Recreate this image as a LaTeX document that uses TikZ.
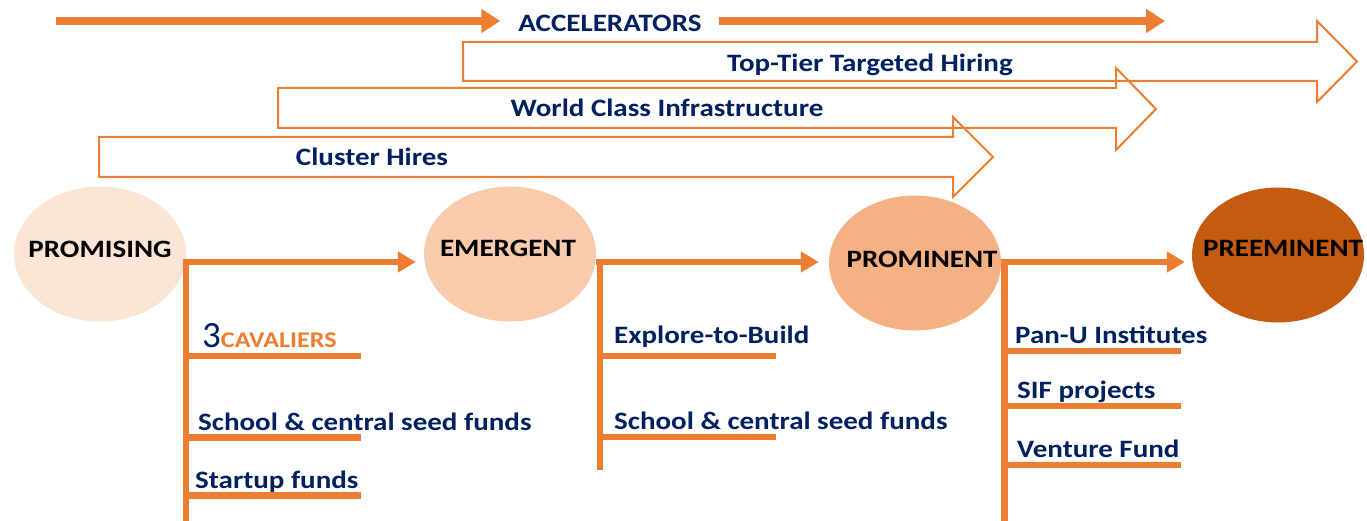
\documentclass[tikz,border=0pt]{standalone}
\usepackage{fontspec}
\setmainfont{Carlito}[FakeStretch=1.16]
\usetikzlibrary{arrows.meta,shapes.geometric}
\definecolor{org}{RGB}{237,125,49}
\definecolor{navy}{RGB}{0,32,96}
\definecolor{cA}{RGB}{251,229,214}
\definecolor{cB}{RGB}{248,203,173}
\definecolor{cC}{RGB}{244,177,131}
\definecolor{cD}{RGB}{197,90,17}
\begin{document}
\begin{tikzpicture}[x=1pt,y=-1pt,
  stage/.style={ellipse,minimum width=172pt,minimum height=135pt,inner sep=0pt,draw=none},
  stagetxt/.style={anchor=base,inner sep=0pt,font=\fontsize{25}{25}\selectfont\bfseries,text=black},
  blk/.style={draw=org,line width=2pt,line join=miter},
  blktxt/.style={anchor=base,inner sep=0pt,font=\fontsize{25}{25}\selectfont\bfseries,text=navy},
  conn/.style={draw=org,line width=6.5pt,line join=miter},
  ctip/.style={-{Triangle[length=18pt,width=20pt]}},
  itemtxt/.style={anchor=base west,inner sep=0pt,font=\fontsize{25}{25}\selectfont\bfseries,text=navy},
  acctip/.style={-{Triangle[length=19pt,width=23pt]}}
]
\useasboundingbox (0,0) rectangle (1367,521);
\fill[white] (0,0) rectangle (1367,521);

% stages
\node[stage,fill=cA] (promising) at (100,254) {};
\node[stage,fill=cB] (emergent) at (510,254) {};
\node[stage,fill=cC] (prominent) at (915,263) {};
\node[stage,fill=cD] (preeminent) at (1278,255) {};
\node[stagetxt] (tpromising) at (100,258) {PROMISING};
\node[stagetxt] (temergent) at (508,257) {EMERGENT};
\node[stagetxt] (tprominent) at (922,267) {PROMINENT};
\node[stagetxt] (tpreeminent) at (1283,257) {PREEMINENT};

% accelerators
\node[blktxt] (acc) at (610,32) {ACCELERATORS};
\coordinate (a0) at (56,21);
\coordinate (a3) at (1165,21);
\draw[org,line width=8.5pt,acctip] (a0) -- ([xshift=-18pt]acc.west |- a0);
\draw[org,line width=8.5pt,acctip] ([xshift=17pt]acc.east |- a3) -- (a3);

% block arrows
\draw[blk] (463,42) -- (1317,42) -- (1317,21) -- (1357,61.5) -- (1317,102) -- (1317,81) -- (463,81) -- cycle;
\node[blktxt] (toptier) at (870,72) {Top-Tier Targeted Hiring};
\draw[blk] (278,88) -- (1116,88) -- (1116,68) -- (1156,109) -- (1116,150) -- (1116,128) -- (278,128) -- cycle;
\node[blktxt] (world) at (667,117) {World Class Infrastructure};
\draw[blk] (99,137) -- (953,137) -- (953,117) -- (993,157) -- (953,197) -- (953,177) -- (99,177) -- cycle;
\node[blktxt] (cluster) at (372,166) {Cluster Hires};

% connectors from PROMISING
\coordinate (b1) at (promising.east |- 0,262);
\coordinate (b1e) at (b1 |- 0,521);
\draw[conn,ctip,shorten >=8pt] (b1e) -- (b1) -- (emergent.west |- b1);
\coordinate (l1a) at (361,356);
\coordinate (l1b) at (361,437.5);
\coordinate (l1c) at (361,495.5);
\draw[conn] (b1 |- l1a) -- (l1a);
\draw[conn] (b1 |- l1b) -- (l1b);
\draw[conn] (b1 |- l1c) -- (l1c);
\node[itemtxt] (cav) at (202,347) {{\fontsize{37}{37}\selectfont\mdseries\addfontfeature{FakeStretch=1.0}\color{navy}3}{\fontsize{22.5}{22.5}\selectfont\color{org}CAVALIERS}};
\node[itemtxt] (seed1) at (198,430) {School \& central seed funds};
\node[itemtxt] (startup) at (195,488) {Startup funds};

% connectors from EMERGENT
\coordinate (b2) at (600,262);
\coordinate (b2e) at (600,470);
\draw[conn,ctip,shorten >=10pt] (b2e) -- (b2) -- (prominent.west |- b2);
\draw[conn] (emergent.east |- 0,262) -- (b2);
\coordinate (l2a) at (776,356);
\coordinate (l2b) at (776,437);
\draw[conn] (b2 |- l2a) -- (l2a);
\draw[conn] (b2 |- l2b) -- (l2b);
\node[itemtxt] (explore) at (614,343) {Explore-to-Build};
\node[itemtxt] (seed2) at (614,429) {School \& central seed funds};

% connectors from PROMINENT
\coordinate (b3) at (1004.5,262);
\coordinate (b3e) at (1004.5,521);
\draw[conn,ctip,shorten >=7pt] (b3e) -- (b3) -- (preeminent.west |- b3);
\coordinate (l3a) at (1181,351);
\coordinate (l3b) at (1181,406);
\coordinate (l3c) at (1181,465);
\draw[conn] (b3 |- l3a) -- (l3a);
\draw[conn] (b3 |- l3b) -- (l3b);
\draw[conn] (b3 |- l3c) -- (l3c);
\node[itemtxt] (panu) at (1015,343) {Pan-U Institutes};
\node[itemtxt] (sif) at (1017,398) {SIF projects};
\node[itemtxt] (venture) at (1017,457) {Venture Fund};
\end{tikzpicture}
\end{document}
